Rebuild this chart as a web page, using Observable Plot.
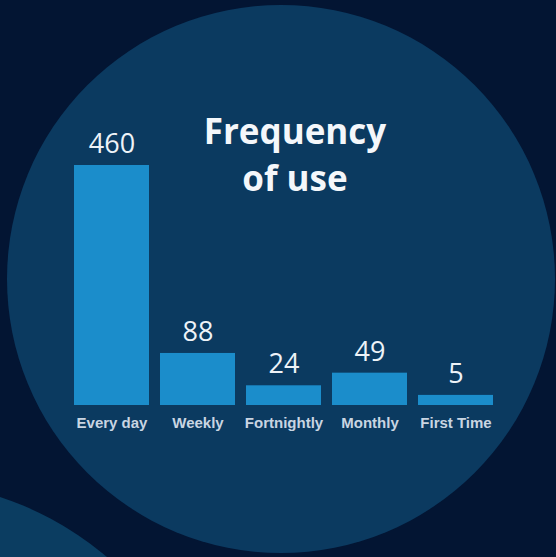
<!DOCTYPE html>
<html>
<head>
<meta charset="utf-8">
<script src="https://cdn.jsdelivr.net/npm/d3@7"></script>
<script src="https://cdn.jsdelivr.net/npm/@observablehq/plot@0.6"></script>
<style>
  html, body { margin: 0; padding: 0; background: #031533; }
  #wrap { position: relative; width: 556px; height: 557px; overflow: hidden; background: #031533; }
  .circ { position: absolute; border-radius: 50%; }
  #big { left: 7px; top: 5px; width: 548px; height: 548px; background: #0b3a60; }
  #small { left: -420px; top: 481px; width: 640px; height: 640px; background: #0b3d61; }
  #title { position: absolute; left: 195px; top: 107px; width: 200px; text-align: center;
    font-family: "Open Sans", sans-serif; font-weight: 700; font-size: 35px; line-height: 47px; color: #f4f7fb; }
  #chart { position: absolute; left: 0; top: 0; }
</style>
</head>
<body>
<div id="wrap">
  <div class="circ" id="small"></div>
  <div class="circ" id="big"></div>
  <div id="chart"></div>
  <div id="title">Frequency<br>of use</div>
</div>
<script>
const categories = ["Every day", "Weekly", "Fortnightly", "Monthly", "First Time"];
const counts = [460, 88, 24, 49, 5];

const data = categories.map((c, i) => ({category: c, count: counts[i]}));
const base = -15;

const chart = Plot.plot({
  width: 556,
  height: 557,
  marginLeft: 61,
  marginRight: 51,
  marginTop: 165,
  marginBottom: 152,
  style: {background: "transparent", color: "#c9d5e2"},
  x: {domain: categories, padding: 0.13, label: null},
  y: {domain: [base, 460], axis: null},
  marks: [
    Plot.barY(data, {x: "category", y1: base, y2: "count", fill: "#1b8dcb"}),
    Plot.text(data, {x: "category", y: "count", text: d => String(d.count), dy: -21,
      fill: "#eef3f8", fontSize: 27, fontWeight: 500, fontFamily: "Open Sans, sans-serif"}),
    Plot.axisX({tickSize: 0, tickPadding: 12, fontSize: 15, fontWeight: 700,
      fontFamily: "Liberation Sans, Arial, sans-serif", fill: "#c9d5e2", label: null})
  ]
});
document.getElementById("chart").appendChild(chart);
</script>
</body>
</html>
